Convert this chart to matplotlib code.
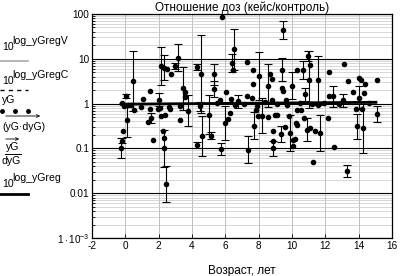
import numpy as np
import matplotlib
matplotlib.use("Agg")
import matplotlib.pyplot as plt
from matplotlib.lines import Line2D
from matplotlib.ticker import FixedLocator, NullFormatter

plt.rcParams['font.family'] = ['Liberation Sans', 'DejaVu Sans']
plt.rcParams['mathtext.fontset'] = 'custom'
plt.rcParams['mathtext.rm'] = 'Liberation Sans'
plt.rcParams['mathtext.it'] = 'Liberation Sans'

# ---- data (age in years, dose ratio yG, multiplicative error dyG) ----
age = [-0.26, -0.20, -0.16, 0.06, 0.10, 0.46, -0.18, -0.10, 0.14, 0.34, 0.50,
       1.04, 1.50, 1.56, 1.36, 1.66, 1.46, 2.12, 2.34, 2.50, 2.76, 3.00, 3.14,
       3.46, 3.56, 3.60, 3.76, 3.26, 2.04, 2.10, 2.14, 2.24, 2.30, 2.34, 2.46,
       2.40, 2.70, 1.96, 0.94, 2.60, 3.30,
       5.78, 4.32, 4.52, 4.58, 4.28, 4.48, 5.02, 5.12, 5.32, 5.34, 5.68, 5.74,
       5.98, 6.02, 6.18, 6.28, 6.52, 6.38, 6.48, 6.32, 6.78, 7.28, 7.28, 7.38,
       7.64, 7.68, 7.58, 7.74, 7.82, 7.88, 8.04, 7.98, 8.22, 8.54, 8.58, 8.68,
       8.78, 8.82, 8.88, 8.88, 8.84, 8.98, 9.08, 9.32, 9.38, 9.38, 9.44, 9.44,
       9.58, 9.64, 9.82, 9.88, 9.98, 10.08, 10.08, 10.22, 5.50, 6.60, 7.10,
       8.40, 9.10, 9.70,
       10.28, 10.68, 10.98, 11.02, 11.08, 10.78, 10.88, 11.08, 11.38, 11.24,
       11.58, 11.68, 11.58, 10.28, 10.28, 10.18, 10.52, 10.74, 12.24, 12.48,
       12.22, 12.18, 12.52, 13.12, 13.38, 13.04, 13.28, 13.64, 14.04, 14.14,
       14.38, 14.32, 14.02, 13.84, 13.88, 14.22, 14.28, 15.08, 15.08, 10.50,
       11.20, 11.90, 12.80, 14.60]
yG = [0.10, 0.15, 0.24, 1.50, 0.42, 3.16, 1.03, 0.87, 0.95, 0.92, 0.71,
      1.27, 1.95, 0.48, 0.38, 0.155, 0.76, 6.9, 6.3, 6.0, 4.6, 6.9, 10.5,
      2.2, 1.8, 1.4, 0.70, 0.44, 1.23, 0.80, 0.52, 0.24, 0.17, 0.10, 0.016,
      0.57, 0.74, 0.76, 0.85, 0.85, 0.90,
      87.0, 6.6, 4.6, 0.19, 0.12, 0.87, 0.57, 0.19, 4.5, 2.1, 1.23, 0.097,
      0.37, 1.8, 0.45, 0.62, 16.2, 8.1, 5.7, 1.27, 1.13, 8.4, 1.5, 0.093,
      5.6, 2.8, 1.34, 0.32, 0.73, 0.87, 4.1, 0.54, 0.54, 0.50, 2.5, 4.5,
      3.6, 1.23, 0.24, 0.15, 0.10, 0.57, 0.57, 0.21, 5.7, 2.2, 1.9, 44.0,
      0.30, 1.23, 0.52, 0.22, 2.5, 0.155, 0.115, 0.37, 1.05, 0.95, 1.0,
      1.1, 1.0, 0.95,
      5.5, 5.7, 11.5, 3.4, 7.1, 1.6, 0.26, 0.28, 0.24, 0.049,
      3.3, 0.22, 0.95, 0.73, 0.34, 0.16, 0.73, 0.48, 5.1, 1.46,
      1.46, 0.48, 0.11, 7.5, 3.2, 1.19, 0.031, 1.8, 3.7, 3.4,
      2.8, 1.7, 1.34, 0.76, 0.31, 0.76, 0.28, 3.4, 0.59, 1.05,
      1.0, 1.05, 1.0, 1.05]
dyG = [1.67, 1.15, 1.0, 1.1, 2.36, 4.7, 1.0, 1.0, 1.0, 1.0, 1.0,
       1.0, 1.0, 1.3, 1.0, 1.0, 1.0, 2.6, 1.9, 1.0, 1.0, 1.15, 2.0,
       3.0, 1.0, 1.0, 2.2, 1.0, 1.4, 1.0, 1.0, 1.0, 1.0, 2.6, 2.5,
       1.0, 1.0, 1.0, 1.0, 1.0, 1.0,
       1.0, 1.15, 7.5, 2.8, 1.15, 1.25, 2.7, 1.2, 1.7, 1.5, 1.0, 1.35,
       2.4, 1.0, 1.0, 1.0, 2.85, 1.6, 1.0, 1.0, 1.4, 1.0, 1.0, 2.0,
       1.0, 1.0, 1.0, 2.0, 1.0, 1.0, 3.4, 1.0, 2.5, 1.0, 3.0, 1.0,
       1.0, 1.0, 1.0, 1.0, 1.5, 1.0, 1.0, 1.5, 1.8, 1.0, 1.0, 1.6,
       1.0, 1.0, 1.0, 2.5, 2.0, 1.0, 1.0, 1.0, 1.0, 1.0, 1.0,
       1.0, 1.0, 1.0,
       1.0, 1.6, 1.3, 4.3, 1.0, 1.4, 1.8, 1.0, 1.0, 1.0,
       3.5, 2.5, 1.0, 1.0, 1.0, 1.0, 1.0, 1.0, 1.0, 1.7,
       1.0, 1.0, 1.0, 1.0, 1.0, 1.4, 1.36, 1.0, 1.0, 1.0,
       1.0, 1.0, 1.8, 1.0, 1.9, 1.0, 3.6, 1.0, 1.5, 1.0,
       1.0, 1.0, 1.0, 1.0]

reg_age = [-0.26, 15.04]
yGreg = [0.97, 1.07]
yGregC = [0.99, 1.05]
yGregV = [1.0, 1.03]

x_ticks = [-2, 0, 2, 4, 6, 8, 10, 12, 14, 16]
y_ticks = [1e-3, 0.01, 0.1, 1, 10, 100]
y_tick_labels = [r'$1\cdot10^{-3}$', '0.01', '0.1', '1', '10', '100']
title = 'Отношение доз (кейс/контроль)'
xlabel = 'Возраст, лет'

W, H = 401, 276
fig = plt.figure(figsize=(W / 100, H / 100), dpi=100)
ax = fig.add_axes([92 / W, 1 - 238 / H, 300 / W, 224 / H])

age_a = np.array(age)
yG_a = np.array(yG)
dyG_a = np.array(dyG)
lower = yG_a - yG_a / dyG_a
upper = yG_a * dyG_a - yG_a
has = dyG_a > 1.0
ax.errorbar(age_a[has], yG_a[has], yerr=[lower[has], upper[has]], fmt='none',
            ecolor='black', elinewidth=0.8, capsize=3, capthick=0.8, zorder=3)
ax.plot(age_a, yG_a, 'o', color='black', markersize=3.0, zorder=4)

ax.plot(reg_age, yGregV, color='#aaaaaa', lw=1.0, zorder=5)
ax.plot(reg_age, yGregC, color='black', lw=0.8, ls=(0, (3, 3)), zorder=5)
ax.plot(reg_age, yGreg, color='black', lw=2.0, zorder=6)

ax.set_yscale('log')
ax.set_xlim(-2, 16)
ax.set_ylim(1e-3, 100)
ax.set_xticks(x_ticks)
ax.set_xticklabels([str(t) for t in x_ticks])
ax.yaxis.set_major_locator(FixedLocator(y_ticks))
ax.set_yticklabels(y_tick_labels)
minor = [m * 10.0 ** e for e in range(-3, 2) for m in range(2, 10)]
ax.yaxis.set_minor_locator(FixedLocator(minor))
ax.yaxis.set_minor_formatter(NullFormatter())

ax.grid(which='minor', axis='y', color='#c8c8c8', lw=0.5)
ax.grid(which='major', axis='y', color='black', lw=0.8)
ax.grid(which='major', axis='x', color='#b4b4b4', lw=0.6)
ax.set_axisbelow(True)
ax.tick_params(axis='both', which='both', direction='in', labelsize=7.2,
               colors='black', length=3, width=0.6, pad=2)
ax.tick_params(axis='y', which='minor', length=2)
for s in ax.spines.values():
    s.set_linewidth(0.9)

ax.set_title(title, fontsize=8.5, pad=2)
ax.set_xlabel(xlabel, fontsize=8.5, labelpad=10)

# ---- legend on the left ----
def ftxt(x, y, s, size=7.6, **kw):
    fig.text(x / W, 1 - y / H, s, fontsize=size, va='baseline', ha='left', **kw)

def fline(x0, x1, y, **kw):
    fig.add_artist(Line2D([x0 / W, x1 / W], [1 - y / H, 1 - y / H],
                          transform=fig.transFigure, **kw))

def farrow(x0, x1, y):
    fig.add_artist(matplotlib.patches.FancyArrowPatch(
        (x0 / W, 1 - y / H), (x1 / W, 1 - y / H), transform=fig.transFigure,
        arrowstyle='->', mutation_scale=5, lw=0.6, color='black'))

ftxt(2, 50, '10')
ftxt(12, 44, 'log_yGregV')
fline(0, 28, 61, color='#aaaaaa', lw=1.2)
ftxt(2, 84, '10')
ftxt(12, 78, 'log_yGregC')
fline(0, 28, 90, color='black', lw=1.0, ls=(0, (3, 3)))
ftxt(2, 103, 'yG')
for xd in (2, 15, 28):
    fig.add_artist(Line2D([xd / W], [1 - 110.5 / H], marker='o', markersize=2.5,
                          color='black', transform=fig.transFigure))
farrow(3, 43, 116)
ftxt(2, 130, '(yG·dyG)')
farrow(3, 22, 139)
ftxt(6, 150, 'yG')
fline(5, 21, 153.5, color='black', lw=0.7)
ftxt(2, 164.5, 'dyG')
ftxt(2, 187, '10')
ftxt(12, 181, 'log_yGreg')
fline(0, 28, 194, color='black', lw=2.0)

fig.savefig('out.png', dpi=100)
